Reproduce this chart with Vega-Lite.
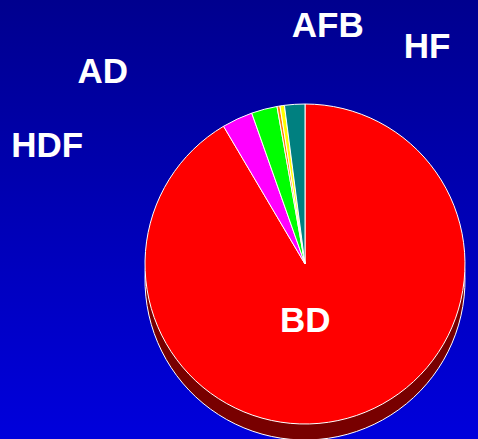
{
  "$schema": "https://vega.github.io/schema/vega-lite/v6.json",
  "width": 610,
  "height": 528,
  "autosize": "none",
  "padding": 0,
  "background": "#0000B8",
  "view": {
    "stroke": null,
    "fill": {
      "gradient": "linear",
      "x1": 0, "y1": 0, "x2": 0, "y2": 0.831,
      "stops": [
        {"offset": 0, "color": "#00008E"},
        {"offset": 0.5, "color": "#0000B6"},
        {"offset": 1, "color": "#0000DC"}
      ]
    }
  },
  "config": {
    "text": {"font": "Liberation Sans", "fontWeight": "bold", "fontSize": 35, "fill": "white", "align": "center", "baseline": "alphabetic"}
  },
  "data": {
    "values": [
      {"cat": "BD", "value": 91.5, "order": 1},
      {"cat": "HDF", "value": 3.1, "order": 2},
      {"cat": "AD", "value": 2.6, "order": 3},
      {"cat": "Other", "value": 0.3, "order": 4},
      {"cat": "AFB", "value": 0.45, "order": 5},
      {"cat": "HF", "value": 2.05, "order": 6}
    ]
  },
  "encoding": {
    "theta": {"field": "value", "type": "quantitative", "stack": true},
    "order": {"field": "order", "type": "quantitative"}
  },
  "layer": [
    {
      "mark": {"type": "arc", "radius": 160, "yOffset": 16, "fill": "#780000", "stroke": "white", "strokeWidth": 1}
    },
    {
      "mark": {"type": "arc", "radius": 160, "stroke": "white", "strokeWidth": 1},
      "encoding": {
        "color": {
          "field": "cat", "type": "nominal", "legend": null,
          "scale": {
            "domain": ["BD", "HDF", "AD", "Other", "AFB", "HF"],
            "range": ["#FF0000", "#FF00FF", "#00FF00", "#FF8000", "#FFFF00", "#008080"]
          }
        }
      }
    },
    {
      "mark": {"type": "text", "radius": 50, "dx": -13, "dy": 20},
      "encoding": {"text": {"condition": {"test": "datum.cat === 'BD'", "field": "cat"}, "value": ""}}
    },
    {
      "mark": {"type": "text", "radius": 170, "dx": -186, "dy": 47},
      "encoding": {"text": {"condition": {"test": "datum.cat === 'HDF'", "field": "cat"}, "value": ""}}
    },
    {
      "mark": {"type": "text", "radius": 170, "dx": -159, "dy": -17},
      "encoding": {"text": {"condition": {"test": "datum.cat === 'AD'", "field": "cat"}, "value": ""}}
    },
    {
      "mark": {"type": "text", "radius": 170, "dx": 47, "dy": -59},
      "encoding": {"text": {"condition": {"test": "datum.cat === 'AFB'", "field": "cat"}, "value": ""}}
    },
    {
      "mark": {"type": "text", "radius": 170, "dx": 133, "dy": -36},
      "encoding": {"text": {"condition": {"test": "datum.cat === 'HF'", "field": "cat"}, "value": ""}}
    }
  ]
}
